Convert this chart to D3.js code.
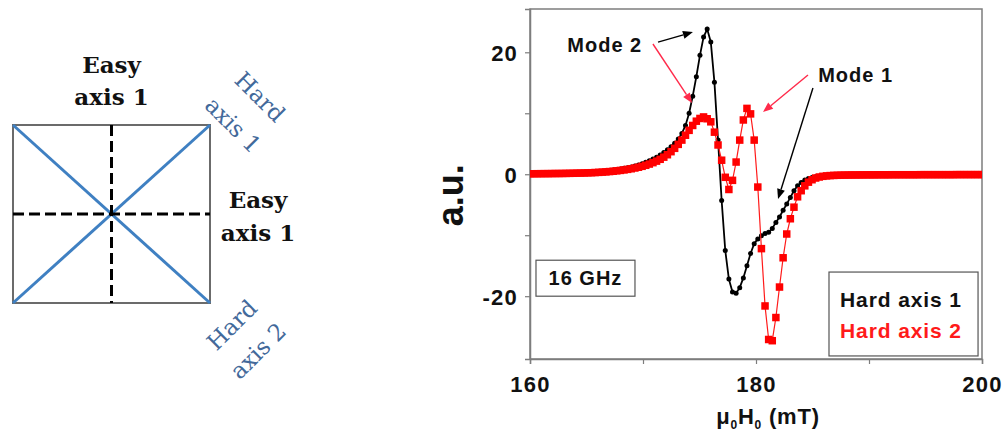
<!DOCTYPE html>
<html>
<head>
<meta charset="utf-8">
<script src="https://cdn.jsdelivr.net/npm/d3@7"></script>
<style>
  html, body { margin: 0; padding: 0; background: #ffffff; }
  svg { display: block; }
</style>
</head>
<body>
<svg id="chart" width="1003" height="435"></svg>
<script>
// ---------------- data ----------------
const field = [
  160,160.32,160.64,160.96,161.28,161.6,161.92,162.24,162.56,162.88,
  163.2,163.52,163.84,164.16,164.48,164.8,165.12,165.44,165.76,166.08,
  166.4,166.72,167.04,167.36,167.68,168,168.32,168.64,168.96,169.28,
  169.6,169.92,170.24,170.56,170.88,171.2,171.52,171.84,172.16,172.48,
  172.8,173.12,173.44,173.76,174.08,174.4,174.72,175.04,175.36,175.68,
  176,176.32,176.64,176.96,177.28,177.6,177.92,178.24,178.56,178.88,
  179.2,179.52,179.84,180.16,180.48,180.8,181.12,181.44,181.76,182.08,
  182.4,182.72,183.04,183.36,183.68,184,184.32,184.64,184.96,185.28,
  185.6,185.92,186.24,186.56,186.88,187.2,187.52,187.84,188.16,188.48,
  188.8,189.12,189.44,189.76,190.08,190.4,190.72,191.04,191.36,191.68,
  192,192.32,192.64,192.96,193.28,193.6,193.92,194.24,194.56,194.88,
  195.2,195.52,195.84,196.16,196.48,196.8,197.12,197.44,197.76,198.08,
  198.4,198.72,199.04,199.36,199.68,200
];

const hardAxis1 = [
  0.09,0.09,0.10,0.10,0.11,0.12,0.13,0.14,0.15,0.16,
  0.17,0.19,0.21,0.23,0.26,0.29,0.32,0.36,0.40,0.45,
  0.50,0.56,0.63,0.70,0.78,0.87,0.97,1.08,1.20,1.35,
  1.52,1.72,1.95,2.20,2.48,2.80,3.15,3.55,4.00,4.50,
  5.10,5.80,6.70,8.00,10.00,12.80,16.00,19.50,22.50,23.80,
  21.70,15.10,5.60,-4.30,-12.50,-17.20,-19.30,-19.50,-18.60,-17.00,
  -15.00,-13.00,-11.40,-10.60,-10.10,-9.70,-9.50,-8.90,-7.90,-7.00,
  -5.90,-4.90,-3.80,-2.70,-1.90,-1.35,-0.95,-0.70,-0.52,-0.40,
  -0.32,-0.26,-0.22,-0.19,-0.17,-0.15,-0.14,-0.13,-0.12,-0.12,
  -0.11,-0.11,-0.10,-0.10,-0.10,-0.09,-0.09,-0.09,-0.09,-0.08,
  -0.08,-0.08,-0.08,-0.08,-0.08,-0.08,-0.08,-0.08,-0.07,-0.07,
  -0.07,-0.07,-0.07,-0.07,-0.07,-0.07,-0.07,-0.07,-0.06,-0.06,
  -0.06,-0.06,-0.06,-0.06,-0.06,-0.06
];

const hardAxis2 = [
  0.08,0.08,0.09,0.09,0.10,0.10,0.11,0.12,0.12,0.13,
  0.14,0.15,0.16,0.18,0.19,0.21,0.23,0.25,0.28,0.31,
  0.35,0.39,0.44,0.49,0.56,0.63,0.71,0.80,0.90,1.02,
  1.15,1.30,1.47,1.67,1.90,2.15,2.45,2.80,3.20,3.70,
  4.25,4.90,5.60,6.40,7.20,8.00,8.70,9.15,9.40,9.10,
  8.60,6.90,4.80,2.30,-0.50,-2.50,-1.00,2.00,5.60,8.90,
  10.80,9.90,5.60,-2.10,-12.20,-21.60,-27.10,-27.30,-23.50,-18.50,
  -13.70,-9.80,-7.30,-5.40,-3.70,-2.70,-1.90,-1.30,-0.90,-0.62,
  -0.45,-0.34,-0.27,-0.22,-0.19,-0.17,-0.15,-0.14,-0.13,-0.12,
  -0.12,-0.11,-0.11,-0.10,-0.10,-0.10,-0.09,-0.09,-0.09,-0.09,
  -0.08,-0.08,-0.08,-0.08,-0.08,-0.08,-0.08,-0.08,-0.07,-0.07,
  -0.07,-0.07,-0.07,-0.07,-0.07,-0.07,-0.07,-0.07,-0.06,-0.06,
  -0.06,-0.06,-0.06,-0.06,-0.06,-0.06
];

const seriesNames = ["Hard axis 1", "Hard axis 2"];
const xTicks = [160, 170, 180, 190, 200];
const xTickLabels = ["160", "", "180", "", "200"];
const yTicks = [-20, -10, 0, 10, 20];
const yTickLabels = ["-20", "", "0", "", "20"];
const yLabel = "a.u.";
const freqLabel = "16 GHz";
const modeLabels = ["Mode 2", "Mode 1"];

// ---------------- layout ----------------
const svg = d3.select("#chart");
const SANS = "'Liberation Sans', Arial, sans-serif";
const SERIF = "'DejaVu Serif', serif";

const plot = { left: 530, right: 982, top: 9, bottom: 359 };
const x = d3.scaleLinear().domain([160, 200]).range([plot.left, plot.right]);
const y = d3.scaleLinear().domain([-30.3, 27.1]).range([plot.bottom, plot.top]);

// ---------------- left schematic ----------------
const sq = { x0: 13, y0: 125, x1: 210, y1: 303 };
const cx = (sq.x0 + sq.x1) / 2, cy = 214;
const g0 = svg.append("g");
g0.append("rect").attr("x", sq.x0).attr("y", sq.y0)
  .attr("width", sq.x1 - sq.x0).attr("height", sq.y1 - sq.y0)
  .attr("fill", "none").attr("stroke", "#6b6b6b").attr("stroke-width", 2);
g0.append("line").attr("x1", sq.x0).attr("y1", sq.y0).attr("x2", sq.x1).attr("y2", sq.y1)
  .attr("stroke", "#3f80c2").attr("stroke-width", 3);
g0.append("line").attr("x1", sq.x0).attr("y1", sq.y1).attr("x2", sq.x1).attr("y2", sq.y0)
  .attr("stroke", "#3f80c2").attr("stroke-width", 3);
g0.append("line").attr("x1", cx).attr("y1", sq.y0).attr("x2", cx).attr("y2", sq.y1)
  .attr("stroke", "#000").attr("stroke-width", 3).attr("stroke-dasharray", "11,5");
g0.append("line").attr("x1", sq.x0).attr("y1", cy).attr("x2", sq.x1).attr("y2", cy)
  .attr("stroke", "#000").attr("stroke-width", 3).attr("stroke-dasharray", "11,5");

function serifText(tx, ty, str, opts) {
  return g0.append("text").attr("x", tx).attr("y", ty).text(str)
    .attr("text-anchor", "middle")
    .attr("font-family", SERIF).attr("font-size", opts.size || 23)
    .attr("font-weight", opts.bold ? "bold" : "normal")
    .attr("fill", opts.color || "#111");
}
serifText(cx, 73, "Easy", { bold: true });
serifText(cx, 105, "axis 1", { bold: true });
serifText(258, 208, "Easy", { bold: true });
serifText(258, 241, "axis 1", { bold: true });

function rotText(tx, ty, ang, str) {
  g0.append("text").attr("transform", `translate(${tx},${ty}) rotate(${ang})`)
    .attr("text-anchor", "middle").attr("dominant-baseline", "central")
    .attr("font-family", SERIF).attr("font-size", 23).attr("fill", "#43699a")
    .text(str);
}
rotText(260, 97, 45, "Hard");
rotText(233, 125, 45, "axis 1");
rotText(232, 325, -45, "Hard");
rotText(258, 351, -45, "axis 2");

// ---------------- right chart ----------------
const g = svg.append("g");

// frame
g.append("rect").attr("x", plot.left).attr("y", plot.top)
  .attr("width", plot.right - plot.left).attr("height", plot.bottom - plot.top)
  .attr("fill", "none").attr("stroke", "#7d7d7d").attr("stroke-width", 1.5);

// axes
const xAxis = d3.axisBottom(x).tickValues(xTicks)
  .tickFormat((d, i) => xTickLabels[i]).tickSize(5).tickPadding(8);
const gx = g.append("g").attr("transform", `translate(0,${plot.bottom})`).call(xAxis);
const yAxis = d3.axisLeft(y).tickValues(yTicks)
  .tickFormat((d, i) => yTickLabels[i]).tickSize(5).tickPadding(7);
const gy = g.append("g").attr("transform", `translate(${plot.left},0)`).call(yAxis);
[gx, gy].forEach(ax => {
  ax.select(".domain").attr("stroke", "#7d7d7d").attr("stroke-width", 1.5);
  ax.selectAll(".tick line").attr("stroke", "#7d7d7d").attr("stroke-width", 1.2);
  ax.selectAll(".tick text").attr("font-family", SANS).attr("font-weight", "bold")
    .attr("font-size", 22).attr("letter-spacing", 1.2).attr("fill", "#111");
});
gx.selectAll(".tick text").attr("dy", "0.9em");
gy.selectAll(".tick text").attr("dy", "0.36em");

// axis titles
g.append("text")
  .attr("transform", `translate(${plot.left - 67},${(y(0) + 21)}) rotate(-90)`)
  .attr("text-anchor", "middle").attr("font-family", SANS).attr("font-weight", "bold")
  .attr("font-size", 36).attr("fill", "#111").text(yLabel);

const xt = g.append("text").attr("x", 768).attr("y", 424)
  .attr("text-anchor", "middle").attr("font-family", SANS).attr("font-weight", "bold")
  .attr("font-size", 22).attr("letter-spacing", 0.8).attr("fill", "#111");
xt.append("tspan").text("\u03BC");
xt.append("tspan").attr("font-size", 12).attr("dy", 5).text("0");
xt.append("tspan").attr("dy", -5).text("H");
xt.append("tspan").attr("font-size", 12).attr("dy", 5).text("0");
xt.append("tspan").attr("dy", -5).text(" (mT)");

// series
const data1 = field.map((f, i) => ({ f, v: hardAxis1[i] }));
const data2 = field.map((f, i) => ({ f, v: hardAxis2[i] }));
const line = d3.line().x(d => x(d.f)).y(d => y(d.v));

const clip = svg.append("clipPath").attr("id", "plotclip").append("rect")
  .attr("x", plot.left).attr("y", plot.top)
  .attr("width", plot.right - plot.left).attr("height", plot.bottom - plot.top);
const gs = g.append("g").attr("clip-path", "url(#plotclip)");

gs.append("path").datum(data1).attr("d", line)
  .attr("fill", "none").attr("stroke", "#000").attr("stroke-width", 1.8);
gs.selectAll("circle.s1").data(data1).enter().append("circle").attr("class", "s1")
  .attr("cx", d => x(d.f)).attr("cy", d => y(d.v)).attr("r", 2.5).attr("fill", "#000");

gs.append("path").datum(data2).attr("d", line)
  .attr("fill", "none").attr("stroke", "#ff1a1a").attr("stroke-width", 1.2);
const sz = 7.5;
gs.selectAll("rect.s2").data(data2).enter().append("rect").attr("class", "s2")
  .attr("x", d => x(d.f) - sz / 2).attr("y", d => y(d.v) - sz / 2)
  .attr("width", sz).attr("height", sz).attr("fill", "#ff0000");

// annotations (positioned in data units)
function arrow(from, to, color) {
  const x1 = x(from[0]), y1 = y(from[1]), x2 = x(to[0]), y2 = y(to[1]);
  const ang = Math.atan2(y2 - y1, x2 - x1);
  const L = 10, W = 4;
  const bx = x2 - L * Math.cos(ang), by = y2 - L * Math.sin(ang);
  g.append("line").attr("x1", x1).attr("y1", y1).attr("x2", bx).attr("y2", by)
    .attr("stroke", color).attr("stroke-width", 1.4);
  const p = [[x2, y2],
    [bx + W * Math.sin(ang), by - W * Math.cos(ang)],
    [bx - W * Math.sin(ang), by + W * Math.cos(ang)]];
  g.append("polygon").attr("points", p.map(q => q.join(",")).join(" ")).attr("fill", color);
}
arrow([171.33, 21.68], [174.42, 23.32], "#000");
arrow([170.88, 21.36], [174.34, 11.68], "#ff2a4a");
arrow([184.6, 16.27], [180.62, 10.2], "#ff2a4a");
arrow([185.04, 14.14], [181.95, -4.07], "#000");

g.append("text").attr("x", x(163.3)).attr("y", y(20.0))
  .attr("font-family", SANS).attr("font-weight", "bold").attr("font-size", 20)
  .attr("letter-spacing", 1).attr("fill", "#111").text(modeLabels[0]);
g.append("text").attr("x", x(185.5)).attr("y", y(15.1))
  .attr("font-family", SANS).attr("font-weight", "bold").attr("font-size", 20)
  .attr("letter-spacing", 1).attr("fill", "#111").text(modeLabels[1]);

// frequency box
g.append("rect").attr("x", x(160.53)).attr("y", y(-14.1))
  .attr("width", x(169.29) - x(160.53)).attr("height", y(-20.0) - y(-14.1))
  .attr("fill", "#fff").attr("stroke", "#555").attr("stroke-width", 1.2);
g.append("text").attr("x", (x(160.53) + x(169.29)) / 2).attr("y", y(-17.05))
  .attr("dy", "0.36em").attr("text-anchor", "middle")
  .attr("font-family", SANS).attr("font-weight", "bold").attr("font-size", 20)
  .attr("letter-spacing", 1).attr("fill", "#111").text(freqLabel);

// legend
const lg = { x0: x(186.46), y0: y(-16.04), x1: x(199.65), y1: y(-29.8) };
g.append("rect").attr("x", lg.x0).attr("y", lg.y0)
  .attr("width", lg.x1 - lg.x0).attr("height", lg.y1 - lg.y0)
  .attr("fill", "#fff").attr("stroke", "#555").attr("stroke-width", 1.2);
const legColors = ["#111", "#ff1a1a"];
seriesNames.forEach((n, i) => {
  g.append("text").attr("x", lg.x0 + 11).attr("y", lg.y0 + 35 + i * 31)
    .attr("font-family", SANS).attr("font-weight", "bold").attr("font-size", 21)
    .attr("letter-spacing", 0.9).attr("fill", legColors[i]).text(n);
});
</script>
</body>
</html>
